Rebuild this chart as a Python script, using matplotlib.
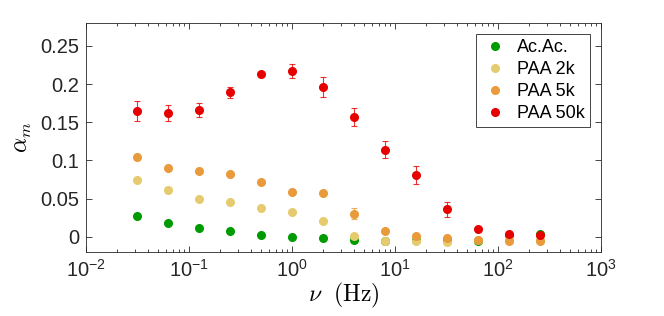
import numpy as np
import matplotlib.pyplot as plt
from matplotlib.ticker import LogLocator, NullFormatter

plt.rcParams['font.family'] = ['Liberation Sans', 'DejaVu Sans']
plt.rcParams['mathtext.fontset'] = 'custom'
plt.rcParams['mathtext.rm'] = 'Liberation Sans'
plt.rcParams['mathtext.it'] = 'Liberation Sans:italic'

# frequencies (Hz)
freq = [0.03125, 0.0625, 0.125, 0.25, 0.5, 1, 2, 4, 8, 16, 32, 64, 128, 256]

acac = [0.027, 0.018, 0.012, 0.007, 0.002, -0.001, -0.002, -0.004, -0.005, -0.004, -0.004, -0.005, 0.002, 0.004]
acac_err = [0.001, 0.001, 0.001, 0.001, 0.001, 0.001, 0.001, 0.001, 0.001, 0.001, 0.001, 0.001, 0.001, 0.001]

paa2k = [0.074, 0.061, 0.050, 0.045, 0.038, 0.033, 0.020, 0.001, -0.005, -0.006, -0.007, -0.004, -0.004, -0.004]
paa2k_err = [0.002, 0.001, 0.001, 0.001, 0.001, 0.001, 0.001, 0.001, 0.001, 0.001, 0.001, 0.001, 0.001, 0.001]

paa5k = [0.104, 0.090, 0.086, 0.082, 0.072, 0.059, 0.057, 0.030, 0.008, 0.001, -0.002, -0.004, -0.005, -0.005]
paa5k_err = [0.003, 0.002, 0.001, 0.001, 0.001, 0.001, 0.001, 0.007, 0.001, 0.001, 0.001, 0.001, 0.001, 0.001]

paa50k = [0.165, 0.162, 0.166, 0.189, 0.213, 0.217, 0.196, 0.157, 0.114, 0.081, 0.036, 0.010, 0.003, 0.002]
paa50k_err = [0.013, 0.011, 0.009, 0.007, 0.003, 0.009, 0.013, 0.012, 0.011, 0.012, 0.010, 0.002, 0.002, 0.002]

series = [
    ("Ac.Ac.", acac, acac_err, "#009b00"),
    ("PAA 2k", paa2k, paa2k_err, "#e6cb6e"),
    ("PAA 5k", paa5k, paa5k_err, "#e99a3a"),
    ("PAA 50k", paa50k, paa50k_err, "#e60000"),
]

fig = plt.figure(figsize=(6.64, 3.16), dpi=100)
ax = fig.add_axes([86 / 664, 1 - 252 / 316, 515 / 664, 229 / 316])

for name, vals, errs, col in series:
    ax.errorbar(freq, vals, yerr=errs, fmt='none', ecolor=col, alpha=0.8,
                elinewidth=0.8, capsize=2, capthick=0.8)
    ax.plot(freq, vals, 'o', color=col, markersize=5.5, label=name)

ax.set_xscale('log')
ax.set_xlim(1e-2, 1e3)
ax.set_ylim(-0.02, 0.28)
ax.set_xticks([1e-2, 1e-1, 1e0, 1e1, 1e2, 1e3])
ax.set_xticklabels([r'$10^{-2}$', r'$10^{-1}$', r'$10^{0}$', r'$10^{1}$', r'$10^{2}$', r'$10^{3}$'])
ax.xaxis.set_minor_locator(LogLocator(base=10, subs=np.arange(2, 10)))
ax.xaxis.set_minor_formatter(NullFormatter())
ax.set_yticks([0, 0.05, 0.1, 0.15, 0.2, 0.25])
ax.set_yticklabels(['0', '0.05', '0.1', '0.15', '0.2', '0.25'])

ax.tick_params(which='both', direction='in', top=True, right=True,
               colors='#262626', labelsize=14.5)
ax.tick_params(which='major', length=4, width=0.6, pad=5)
ax.tick_params(which='minor', length=2, width=0.6)
for s in ax.spines.values():
    s.set_color('#262626')
    s.set_linewidth(0.6)

ax.set_xlabel(r'$\nu\ \ \mathrm{(Hz)}$', fontsize=17, math_fontfamily='cm', labelpad=0)
ax.set_ylabel(r'$\alpha_m$', fontsize=17, math_fontfamily='cm', labelpad=4)

leg = ax.legend(loc='upper right', fontsize=13, handletextpad=0.45,
                borderpad=0.3, labelspacing=0.27, fancybox=False,
                edgecolor='#262626', framealpha=1, handlelength=1.5,
                borderaxespad=0, bbox_to_anchor=(0.979, 0.952))
leg.get_frame().set_linewidth(0.6)

fig.savefig('out.png', dpi=100)
